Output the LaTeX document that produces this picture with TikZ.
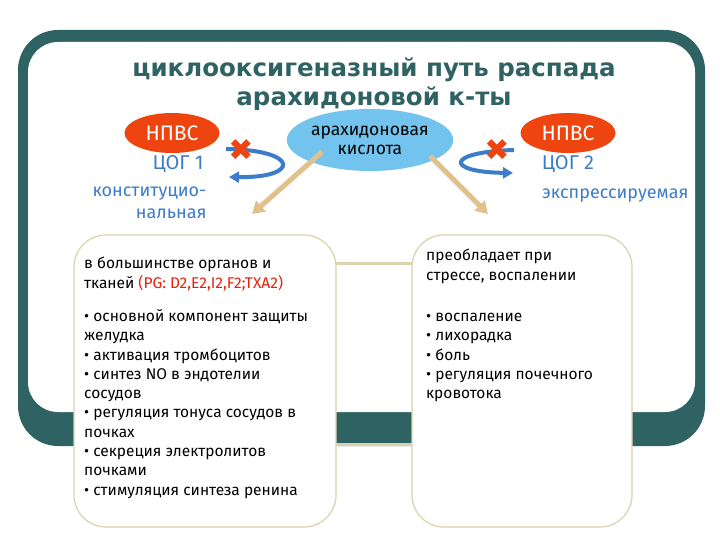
\documentclass[tikz,border=0pt]{standalone}
\usepackage{fontspec}
\setmainfont{Fira Sans}
\newfontfamily\titlefont{DejaVu Sans}
\usetikzlibrary{shapes.geometric,arrows.meta}
\definecolor{teal1}{HTML}{2F6262}
\definecolor{npvs}{HTML}{EE4410}
\definecolor{cogblue}{HTML}{3D7CC9}
\definecolor{arach}{HTML}{72C4EE}
\definecolor{tan1}{HTML}{E2C08C}
\definecolor{cardb}{HTML}{D9D2AC}
\definecolor{redt}{HTML}{E8200C}
\tikzset{
 npvsbox/.style={ellipse,fill=npvs,text=white,minimum width=95pt,minimum height=40pt,inner sep=0pt,font=\fontsize{21}{21}\selectfont},
 coglabel/.style={text=cogblue,font=\fontsize{20}{20}\selectfont},
 bluelabel/.style={text=cogblue,font=\fontsize{18}{22}\selectfont},
 card/.style={draw=cardb,line width=1.2pt,fill=white,rounded corners=32pt},
 cardtext/.style={anchor=north west,align=left,font=\fontsize{15.5}{19.3}\selectfont,inner sep=0pt},
 tanarrow/.style={draw=tan1,line width=5pt,-{Triangle[length=12pt,width=14pt]}},
 bluearrow/.style={draw=cogblue,line width=4pt,-{Triangle[length=10pt,width=11pt]}},
 xmark/.style={text=npvs,font=\titlefont\bfseries\fontsize{30}{30}\selectfont,inner sep=0pt}
}
\begin{document}
\begin{tikzpicture}[x=1pt,y=-1pt]
\useasboundingbox (0,0) rectangle (720,540);
\fill[white] (0,0) rectangle (720,540);
% frame
\fill[teal1,rounded corners=40pt] (18,30) rectangle (705,446);
\fill[white,rounded corners=30pt] (28,42) rectangle (695,412);
% bars between cards
\draw[cardb,line width=3pt] (330,263) -- (415,263);
\draw[cardb,line width=3pt] (330,444) -- (415,444);
% title
\node[font=\titlefont\bfseries\fontsize{24.5}{29}\selectfont,text=teal1,align=center] (title) at (374,84) {циклооксигеназный путь распада\\арахидоновой к-ты};
% left side
\node[ellipse,fill=arach,minimum width=150pt,minimum height=62pt,inner sep=0pt,align=center,font=\fontsize{17.5}{19}\selectfont] (aa) at (370,140) {арахидоновая\\кислота};
\node[npvsbox] (n1) at (172,133) {НПВС};
\node[coglabel] (c1) at (178,164) {ЦОГ 1};
\coordinate (l1) at (226,149);
\coordinate (l2) at (229,177);
\draw[bluearrow] (l1) .. controls (300,150) and (300,178) .. (l2);
\node[xmark] (x1) at (241,150) {✖};
\coordinate (r1) at (514,150);
\coordinate (r2) at (513,173);
\draw[bluearrow] (r1) .. controls (445,152) and (445,172) .. (r2);
\node[xmark] (x2) at (497,150) {✖};
\node[npvsbox] (n2) at (568,133) {НПВС};
\node[coglabel] (c2) at (568,164) {ЦОГ 2};
\node[bluelabel,align=right,anchor=east] (konst) at (210,203) {конституцио-\\нальная};
\node[bluelabel,anchor=east] (expr) at (692,196) {экспрессируемая};
\coordinate (s1) at (322,152);
\coordinate (s2) at (430,156);
\coordinate (t1) at (252,214);
\coordinate (t2) at (488,214);
\draw[tanarrow] (s1) -- (t1);
\draw[tanarrow] (s2) -- (t2);
% cards
\draw[card] (74,235) rectangle (336,527);
\draw[card] (412,235) rectangle (632,527);
\node[cardtext] (lt) at (84,257) { в большинстве органов и\\тканей {\color{redt}(PG: D2,E2,I2,F2;TXA2)}\\[14pt]
• основной компонент защиты\\желудка\\• активация тромбоцитов\\• синтез NO в эндотелии\\сосудов\\• регуляция тонуса сосудов в\\почках\\• секреция электролитов\\почками\\• стимуляция синтеза ренина};
\node[cardtext] (rt) at (426,249) {преобладает при\\стрессе, воспалении\\[22pt]
• воспаление\\• лихорадка\\• боль\\• регуляция почечного\\кровотока};
\end{tikzpicture}
\end{document}
